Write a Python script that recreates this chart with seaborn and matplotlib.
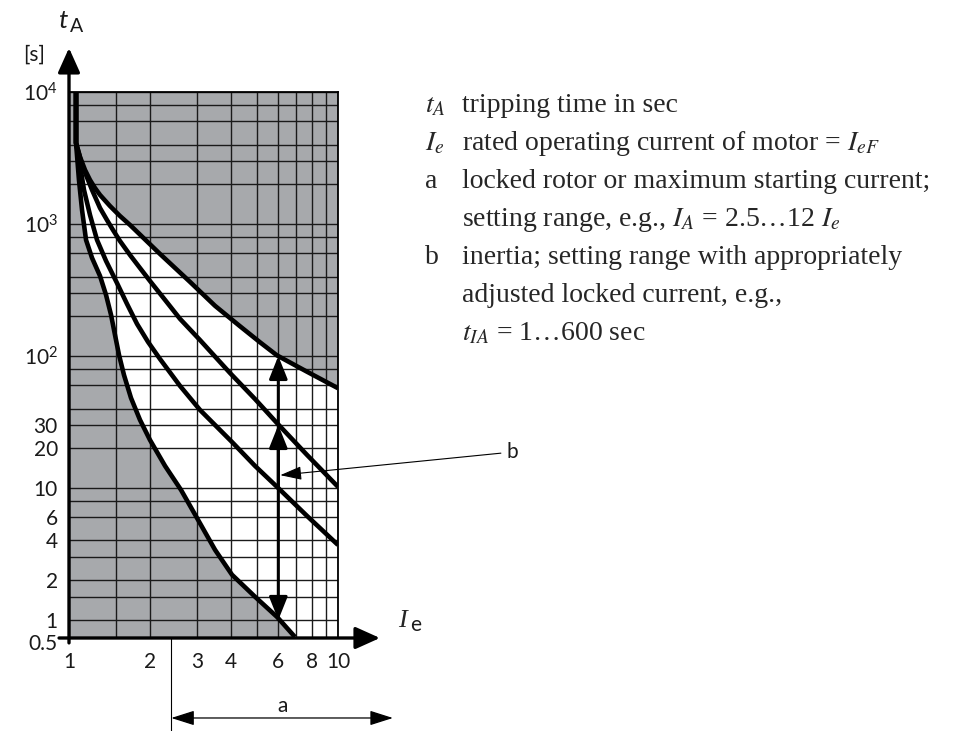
import numpy as np
import pandas as pd
import matplotlib
matplotlib.use('Agg')
import matplotlib.pyplot as plt
import matplotlib.transforms as mtransforms
from matplotlib.ticker import NullFormatter
import seaborn as sns

# ------- Data --------------------------------------------
# tripping curves t_A [s] vs I / I_e ; all start on the common vertical at 1.06
I_CURVE1 = [1.062, 1.062, 1.089, 1.118, 1.157, 1.218, 1.304, 1.373, 1.433, 1.483,
            1.534, 1.601, 1.700, 1.836, 2.0, 2.275, 2.609, 3.069, 3.490, 4.036,
            4.914, 5.933, 6.921]
T_CURVE1 = [10000, 4110, 2154, 1276, 757, 553, 404, 290, 205, 144,
            102, 71.8, 48.1, 32.8, 23.1, 14.7, 9.66, 5.4, 3.4, 2.2,
            1.5, 1.055, 0.743]

I_CURVE2 = [1.062, 1.062, 1.099, 1.137, 1.197, 1.271, 1.373, 1.508, 1.643, 1.790,
            1.966, 2.179, 2.587, 3.069, 4.036, 4.914, 5.933, 7.67, 10.0]
T_CURVE2 = [10000, 4110, 2799, 1811, 1170, 757, 525, 357, 248, 175,
            128, 94.9, 59.3, 39.0, 22.3, 14.7, 10.2, 6.14, 3.70]

I_CURVE3 = [1.062, 1.062, 1.118, 1.177, 1.218, 1.304, 1.384, 1.457, 1.547, 1.686,
            1.836, 2.0, 2.275, 2.587, 3.069, 3.968, 4.914, 5.933, 7.67, 10.0]
T_CURVE3 = [10000, 4110, 2799, 2154, 1811, 1322, 1072, 901, 743, 582,
            464, 370, 266, 191, 132, 74.3, 47.2, 31.0, 17.8, 10.2]

I_CURVE4 = [1.062, 1.062, 1.099, 1.147, 1.197, 1.249, 1.304, 1.420, 1.547, 1.686,
            2.179, 2.818, 3.490, 4.322, 5.129, 5.933, 7.67, 10.0]
T_CURVE4 = [10000, 4110, 3222, 2565, 2154, 1874, 1660, 1369, 1150, 983,
            593, 364, 240, 168, 127, 101, 76, 57]

# setting range b at I = 6 I_e : from curve 2 up to curves 3/4 and down to curve 1
B_AT_I = 6
B_FROM = 10
B_TO = [100, 30, 1]
B_POINTER = (6.1, 12.5)

# setting range a (dimension line under the x axis)
A_START = 2.4
A_END = 16

X_TICKS = [1, 2, 3, 4, 6, 8, 10]
X_LABELS = ['1', '2', '3', '4', '6', '8', '10']
X_MINOR = [1.5, 5, 7, 9]
Y_MIN = 0.73   # bottom of the axis, labelled "0.5" in the original
Y_TICKS = [Y_MIN, 1, 2, 4, 6, 10, 20, 30, 100, 1000, 10000]
Y_LABELS = ['0.5', '1', '2', '4', '6', '10', '20', '30',
            '$10^2$', '$10^3$', '$10^4$']
Y_MINOR = [1.5, 3, 8, 40, 60, 80, 200, 300, 400, 600, 800,
           2000, 3000, 4000, 6000, 8000]

LEGEND_SYMBOLS = ['$t_A$', '$I_e$', 'a', '', 'b', '', '']
LEGEND_TEXTS = ['tripping time in sec',
                'rated operating current of motor = $I_{eF}$',
                'locked rotor or maximum starting current;',
                'setting range, e.g., $I_A$ = 2.5\u202612 $I_e$',
                'inertia; setting range with appropriately',
                'adjusted locked current, e.g.,',
                '$t_{IA}$ = 1\u2026600 sec']

GRAY = '#a7a9ac'
INK = '#1a1a1a'
W, H = 954, 731

sns.set_style('white')
plt.rcParams['font.family'] = ['Lato', 'DejaVu Sans']
plt.rcParams['mathtext.fontset'] = 'custom'
plt.rcParams['mathtext.rm'] = 'Lato'
plt.rcParams['mathtext.it'] = 'Lato:italic'


def fpos(x, y):
    return x / W, 1 - y / H


df = pd.concat([
    pd.DataFrame({'I': xs, 't': ys, 'curve': k})
    for k, (xs, ys) in enumerate([(I_CURVE1, T_CURVE1), (I_CURVE2, T_CURVE2),
                                  (I_CURVE3, T_CURVE3), (I_CURVE4, T_CURVE4)])
])

fig = plt.figure(figsize=(W / 100, H / 100), dpi=100)
ax = fig.add_axes([69 / W, 1 - 638 / H, 269 / W, 546 / H])
ax.set_xscale('log')
ax.set_yscale('log')
ax.set_xlim(1, 10)
ax.set_ylim(Y_MIN, 10000)
ax.set_facecolor(GRAY)

# white band between the lowest and the highest curve
poly_x = I_CURVE4 + [10, 10] + I_CURVE1[::-1]
poly_y = T_CURVE4 + [Y_MIN, Y_MIN] + T_CURVE1[::-1]
ax.fill(poly_x, poly_y, color='white', lw=0, zorder=0.2)

sns.lineplot(data=df, x='I', y='t', units='curve', estimator=None, sort=False,
             color='black', lw=3.3, legend=False, ax=ax, zorder=3,
             solid_capstyle='butt', solid_joinstyle='round')

# grid / ticks
ax.set_xticks(X_TICKS, labels=X_LABELS)
ax.set_xticks(X_MINOR, minor=True)
ax.set_yticks(Y_TICKS, labels=Y_LABELS)
ax.set_yticks(Y_MINOR, minor=True)
ax.xaxis.set_minor_formatter(NullFormatter())
ax.yaxis.set_minor_formatter(NullFormatter())
ax.tick_params(which='minor', length=0)
ax.tick_params(which='major', length=5, width=1.2, direction='out',
               labelsize=15, labelcolor=INK, color='black')
ax.tick_params(axis='x', pad=5)
ax.tick_params(axis='y', pad=3)
# bottom label sits a little lower, clear of the "1"
shift = mtransforms.ScaledTranslation(0, -3 / 72, fig.dpi_scale_trans)
ax.get_yticklabels()[0].set_transform(ax.get_yticklabels()[0].get_transform() + shift)
ax.grid(which='both', color=INK, lw=1.0)
ax.set_axisbelow(True)
ax.set_xlabel('')
ax.set_ylabel('')

for side in ['left', 'bottom']:
    ax.spines[side].set_visible(False)
for side in ['top', 'right']:
    ax.spines[side].set_linewidth(1.3)
    ax.spines[side].set_color('black')

head = '-|>,head_length=1.0,head_width=0.45'
ax.annotate('', xy=(0, 1.0806), xytext=(0, -0.009), xycoords='axes fraction',
            arrowprops=dict(arrowstyle=head, mutation_scale=15, lw=2.4,
                            color='black', shrinkA=0, shrinkB=0),
            annotation_clip=False, zorder=5)
ax.annotate('', xy=(1.156, 0), xytext=(-0.037, 0), xycoords='axes fraction',
            arrowprops=dict(arrowstyle=head, mutation_scale=15, lw=2.4,
                            color='black', shrinkA=0, shrinkB=0),
            annotation_clip=False, zorder=5)

# range b arrows
for t_end in B_TO:
    ax.annotate('', xy=(B_AT_I, t_end), xytext=(B_AT_I, B_FROM),
                arrowprops=dict(arrowstyle='-|>,head_length=1.0,head_width=0.4',
                                mutation_scale=14, lw=2.2, color='black',
                                shrinkA=0, shrinkB=0), zorder=4)
ax.annotate('b', xy=B_POINTER, xytext=(1.628, 0.3407), textcoords='axes fraction',
            fontsize=15, color=INK, ha='left', va='center',
            arrowprops=dict(arrowstyle='-|>,head_length=1.1,head_width=0.35',
                            mutation_scale=12, lw=0.8, color='black',
                            shrinkA=2, shrinkB=0),
            annotation_clip=False, zorder=5)

# range a dimension line
trans = ax.get_xaxis_transform()
ax.plot([A_START, A_START], [0, -0.175], transform=trans, color='black',
        lw=0.8, clip_on=False)
ax.annotate('', xy=(A_END, -0.1465), xytext=(A_START, -0.1465),
            xycoords=trans, textcoords=trans,
            arrowprops=dict(arrowstyle='<|-|>,head_length=1.1,head_width=0.35',
                            mutation_scale=13, lw=0.9, color='black',
                            shrinkA=0, shrinkB=0), annotation_clip=False)
ax.text(np.sqrt(A_START * A_END), -0.125, 'a', transform=trans, fontsize=15,
        color=INK, ha='center', va='center')

# axis titles
fig.text(*fpos(63, 21), 't', fontsize=19, style='italic', color=INK,
         ha='center', va='center')
fig.text(*fpos(77, 27), 'A', fontsize=14, color=INK, ha='center', va='center')
fig.text(*fpos(34, 55), '[s]', fontsize=15, color=INK, ha='center', va='center')
fig.text(*fpos(402, 621), 'I', fontsize=19, style='italic',
         family='Liberation Serif', ha='center', va='center')
fig.text(*fpos(416, 625), 'e', fontsize=15, color=INK, ha='center', va='center')

# explanation block
for i, (sym, txt) in enumerate(zip(LEGEND_SYMBOLS, LEGEND_TEXTS)):
    y = 112 + 38 * i
    if sym:
        fig.text(*fpos(425, y), sym, fontsize=20, family='Liberation Serif',
                 math_fontfamily='stix', va='baseline')
    fig.text(*fpos(462, y), txt, fontsize=20, family='Liberation Serif',
             math_fontfamily='stix', va='baseline')

plt.savefig('out.png', dpi=100)
plt.close()
